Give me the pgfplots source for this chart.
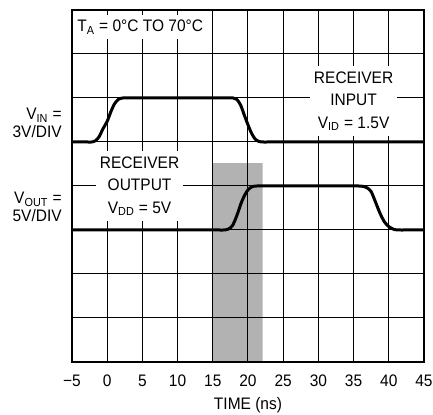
\documentclass[border=0pt]{standalone}
\usepackage{fontspec}
\setmainfont[FakeStretch=0.93]{Liberation Sans}
\usepackage{pgfplots}
\pgfplotsset{compat=1.18}
\begin{document}
\fontsize{10}{12}\selectfont
\begin{tikzpicture}
\begin{axis}[
  scale only axis, width=211.2pt, height=211.2pt,
  xmin=-5, xmax=45, ymin=0, ymax=8,
  xtick={-5,0,...,45}, ytick={0,1,...,8},
  xticklabels={−5,0,5,10,15,20,25,30,35,40,45},
  yticklabels={},
  major tick length=0pt,
  grid=major, major grid style={black, line width=0.6pt},
  axis line style={black, line width=1pt},
  axis on top,
  xticklabel style={inner sep=0pt, anchor=north, yshift=-7.8pt},
  xlabel={TIME (ns)},
  xlabel style={at={(axis description cs:0.5,0)}, anchor=north, yshift=-21pt, inner sep=0pt},
]
\addplot[fill=gray!60, draw=none] coordinates {(15,0) (15,4.52) (22.08,4.52) (22.08,0)} \closedcycle;
% V_IN
\addplot[black, line width=1.8pt, smooth, tension=0.45, line join=round] coordinates {
 (-5,5) (-3.6,5) (-2.8,5) (-2.2,5) (-1.65,5.03) (-1.15,5.12) (-0.6,5.3) (0,5.47) (0.55,5.7)
 (1.05,5.87) (1.6,5.97) (2.2,6) (2.9,6) (3.8,6) (10,6) (16.5,6) (17.3,6) (17.9,6)
 (18.4,5.97) (18.95,5.84) (19.5,5.6) (20,5.39) (20.5,5.2) (21.0,5.07) (21.5,5.015)
 (22.1,5) (22.8,5) (23.8,5) (30,5) (45,5)};
% V_OUT
\addplot[black, line width=1.8pt, smooth, tension=0.45, line join=round] coordinates {
 (-5,3) (10,3) (15.2,3) (15.9,3) (16.6,3) (17.2,3.02) (17.8,3.1) (18.4,3.32) (19.0,3.6)
 (19.55,3.8) (20.1,3.93) (20.7,3.99) (21.3,4) (22.0,4) (22.9,4) (30,4) (35.0,4) (35.7,4)
 (36.4,3.99) (37.0,3.95) (37.5,3.87) (38.05,3.66) (38.75,3.38) (39.4,3.18) (40.05,3.07)
 (40.8,3.01) (41.5,3) (42.3,3) (43.3,3) (45,3)};
\coordinate (ll) at (axis cs:-5,0);
\coordinate (ur) at (axis cs:45,8);
\coordinate (ta) at (axis cs:-5,7.61);
\coordinate (vin) at (axis cs:-5,5.44);
\coordinate (vout) at (axis cs:-5,3.53);
\coordinate (rout) at (axis cs:4.6,4.0);
\coordinate (rin) at (axis cs:35,5.93);
\end{axis}
\node[anchor=west, fill=white, inner xsep=2pt, inner ysep=3pt] at ([xshift=1pt]ta) {T\textsubscript{A} = 0°C TO 70°C};
\node[anchor=east, align=right, inner sep=0pt, font=\fontsize{10}{10.5}\selectfont] at ([xshift=-6pt]vin) {V\textsubscript{IN} =\\3V/DIV};
\node[anchor=east, align=right, inner sep=0pt, font=\fontsize{10}{10.5}\selectfont] at ([xshift=-6pt]vout) {V\textsubscript{OUT} =\\5V/DIV};
\node[fill=white, align=center, inner xsep=2.5pt, inner ysep=3.5pt, font=\fontsize{10}{13.5}\selectfont] at (rout) {RECEIVER\\OUTPUT\\V\textsubscript{DD} = 5V};
\node[fill=white, align=center, inner xsep=2.5pt, inner ysep=3.5pt, font=\fontsize{10}{13.5}\selectfont] at (rin) {RECEIVER\\INPUT\\V\textsubscript{ID} = 1.5V};
\pgfresetboundingbox
\path[use as bounding box] ([shift={(-43.2pt,-31.8pt)}]ll) rectangle ([shift={(5.4pt,6pt)}]ur);
\end{tikzpicture}
\end{document}
